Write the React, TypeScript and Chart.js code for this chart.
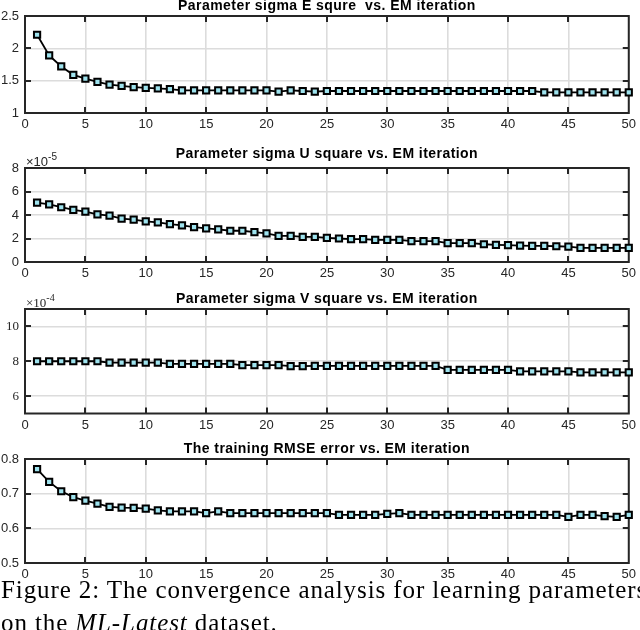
import React, { useEffect, useRef } from 'react';
import { Chart, registerables } from 'chart.js';

Chart.register(...registerables);

// EM iteration index (x)
const iterations = [
  1, 2, 3, 4, 5, 6, 7, 8, 9, 10, 11, 12, 13, 14, 15, 16, 17, 18, 19, 20, 21, 22, 23, 24, 25,
  26, 27, 28, 29, 30, 31, 32, 33, 34, 35, 36, 37, 38, 39, 40, 41, 42, 43, 44, 45, 46, 47, 48, 49, 50,
];

// Parameter sigma E square
const sigmaE = [
  2.21, 1.89, 1.72, 1.59, 1.53, 1.48, 1.44, 1.42, 1.40, 1.39, 1.38, 1.37, 1.35, 1.35, 1.35, 1.35, 1.35, 1.35, 1.35, 1.35, 1.33, 1.35, 1.34, 1.33, 1.34,
  1.34, 1.34, 1.34, 1.34, 1.34, 1.34, 1.34, 1.34, 1.34, 1.34, 1.34, 1.34, 1.34, 1.34, 1.34, 1.34, 1.34, 1.32, 1.32, 1.32, 1.32, 1.32, 1.32, 1.32, 1.32,
];

// Parameter sigma U square (x 1e-5)
const sigmaU = [
  5.05, 4.91, 4.66, 4.43, 4.29, 4.06, 3.94, 3.69, 3.60, 3.46, 3.37, 3.23, 3.11, 2.97, 2.86, 2.77, 2.66, 2.66, 2.54, 2.43, 2.23, 2.23, 2.14, 2.14, 2.06,
  2.00, 1.94, 1.94, 1.89, 1.89, 1.89, 1.77, 1.77, 1.77, 1.60, 1.60, 1.60, 1.51, 1.46, 1.43, 1.40, 1.37, 1.37, 1.34, 1.31, 1.20, 1.20, 1.20, 1.20, 1.20,
];

// Parameter sigma V square (x 1e-4)
const sigmaV = [
  8.00, 8.00, 8.00, 8.00, 8.00, 8.00, 7.92, 7.92, 7.92, 7.92, 7.92, 7.85, 7.85, 7.85, 7.85, 7.85, 7.85, 7.78, 7.78, 7.78, 7.78, 7.72, 7.72, 7.74, 7.74,
  7.74, 7.74, 7.74, 7.74, 7.74, 7.74, 7.74, 7.74, 7.74, 7.50, 7.50, 7.50, 7.50, 7.50, 7.50, 7.42, 7.42, 7.42, 7.42, 7.42, 7.36, 7.36, 7.36, 7.36, 7.36,
];

// Training RMSE
const rmse = [
  0.771, 0.734, 0.707, 0.690, 0.680, 0.671, 0.662, 0.660, 0.659, 0.657, 0.652, 0.649, 0.649, 0.649, 0.644, 0.649, 0.644, 0.644, 0.644, 0.644, 0.644, 0.644, 0.644, 0.644, 0.644,
  0.639, 0.639, 0.639, 0.639, 0.642, 0.644, 0.639, 0.639, 0.639, 0.639, 0.639, 0.639, 0.639, 0.639, 0.639, 0.639, 0.639, 0.639, 0.639, 0.633, 0.639, 0.639, 0.635, 0.633, 0.639,
];

const titles = [
  'Parameter sigma E squre  vs. EM iteration',
  'Parameter sigma U square vs. EM iteration',
  'Parameter sigma V square vs. EM iteration',
  'The training RMSE error vs. EM iteration',
];

const xTickStep = 5;

const INK = '#262626';
const SANS = '"Liberation Sans", Arial, sans-serif';
const SERIF = '"Liberation Serif", "Times New Roman", serif';

const framePlugin = {
  id: 'frame',
  beforeDatasetsDraw(chart: any) {
    const { ctx, chartArea: a, scales } = chart;
    ctx.save();
    ctx.strokeStyle = INK;
    ctx.lineWidth = 2;
    const tl = 6;
    ctx.beginPath();
    scales.x.ticks.forEach((t: any) => {
      const x = Math.round(scales.x.getPixelForValue(t.value));
      if (x <= a.left + 1 || x >= a.right - 1) return;
      ctx.moveTo(x, a.bottom);
      ctx.lineTo(x, a.bottom - tl);
      ctx.moveTo(x, a.top);
      ctx.lineTo(x, a.top + tl);
    });
    scales.y.ticks.forEach((t: any) => {
      const y = Math.round(scales.y.getPixelForValue(t.value));
      if (y <= a.top + 1 || y >= a.bottom - 1) return;
      ctx.moveTo(a.left, y);
      ctx.lineTo(a.left + tl, y);
      ctx.moveTo(a.right, y);
      ctx.lineTo(a.right - tl, y);
    });
    ctx.stroke();
    ctx.lineWidth = 2;
    ctx.strokeRect(a.left, a.top, a.right - a.left, a.bottom - a.top);
    ctx.restore();
  },
  afterDraw(chart: any, _args: any, opts: any) {
    const { ctx, chartArea: a } = chart;
    ctx.save();
    ctx.fillStyle = '#000';
    ctx.font = `bold 14px ${SANS}`;
    try { (ctx as any).letterSpacing = '0.45px'; } catch (e) { /* ignore */ }
    ctx.textAlign = 'center';
    ctx.textBaseline = 'middle';
    ctx.fillText(opts.title, (a.left + a.right) / 2, opts.titleY);
    try { (ctx as any).letterSpacing = '0px'; } catch (e) { /* ignore */ }
    if (opts.exp) {
      ctx.fillStyle = INK;
      ctx.textAlign = 'left';
      ctx.textBaseline = 'alphabetic';
      ctx.font = `13px ${opts.expFont}`;
      const base = '\u00d710';
      ctx.fillText(base, a.left + 1, opts.expY);
      const w = ctx.measureText(base).width;
      ctx.font = `10px ${opts.expFont}`;
      ctx.fillText(opts.exp, a.left + 1 + w, opts.expY - 6);
    }
    ctx.restore();
  },
};

type Panel = {
  top: number;
  height: number;
  areaTop: number;
  xHeight: number;
  title: string;
  titleY: number;
  values: number[];
  yMin: number;
  yMax: number;
  yStep: number;
  yTicks?: number[];
  yFont: string;
  exp?: string;
  expY?: number;
};

const panels: Panel[] = [
  { top: 0, height: 135, areaTop: 16, xHeight: 22, title: titles[0], titleY: 6, values: sigmaE, yMin: 1, yMax: 2.5, yStep: 0.5, yFont: SANS },
  { top: 135, height: 145, areaTop: 33, xHeight: 18, title: titles[1], titleY: 19, values: sigmaU, yMin: 0, yMax: 8, yStep: 2, yFont: SANS, exp: '-5', expY: 31 },
  { top: 280, height: 155, areaTop: 29, xHeight: 21.5, title: titles[2], titleY: 19, values: sigmaV, yMin: 5, yMax: 11, yStep: 2, yTicks: [6, 8, 10], yFont: SERIF, exp: '-4', expY: 27 },
  { top: 435, height: 150, areaTop: 24, xHeight: 22, title: titles[3], titleY: 14, values: rmse, yMin: 0.5, yMax: 0.8, yStep: 0.1, yFont: SANS },
];

const fmt = (v: number) => String(Math.round(v * 1000) / 1000);

function PanelChart({ p }: { p: Panel }) {
  const ref = useRef<HTMLCanvasElement | null>(null);
  useEffect(() => {
    if (!ref.current) return;
    const chart = new Chart(ref.current, {
      type: 'line',
      data: {
        datasets: [
          {
            data: iterations.map((x, i) => ({ x, y: p.values[i] })),
            borderColor: '#000',
            borderWidth: 1.8,
            pointStyle: 'rect',
            pointRadius: 4.4,
            pointBorderWidth: 2,
            pointBorderColor: '#000',
            pointBackgroundColor: '#9fe3ee',
            clip: false as any,
            tension: 0,
          } as any,
        ],
      },
      options: {
        animation: false,
        responsive: false,
        maintainAspectRatio: false,
        layout: { padding: { left: 0, right: 8, top: p.areaTop, bottom: 0 } },
        plugins: {
          legend: { display: false },
          tooltip: { enabled: false },
          title: { display: false },
          frame: {
            title: p.title,
            titleY: p.titleY,
            exp: p.exp,
            expY: p.expY,
            expFont: p.yFont,
          },
        } as any,
        scales: {
          x: {
            type: 'linear',
            min: 0,
            max: 50,
            ticks: { stepSize: xTickStep, color: INK, font: { family: SANS, size: 13 }, padding: 4, maxRotation: 0, autoSkip: false, callback: (v: any) => fmt(Number(v)) },
            grid: { color: '#dcdcdc', lineWidth: 1.6, drawTicks: false },
            border: { display: false },
            afterFit: (s: any) => { s.height = p.xHeight; },
          },
          y: {
            type: 'linear',
            min: p.yMin,
            max: p.yMax,
            ticks: { stepSize: p.yStep, color: INK, font: { family: p.yFont, size: 13 }, padding: 6, callback: (v: any) => fmt(Number(v)) },
            grid: { color: '#dcdcdc', lineWidth: 1.6, drawTicks: false },
            border: { display: false },
            afterBuildTicks: (s: any) => {
              if (p.yTicks) s.ticks = p.yTicks.map((v) => ({ value: v }));
            },
            afterFit: (s: any) => { s.width = 25; },
          },
        },
      },
      plugins: [framePlugin as any],
    });
    return () => chart.destroy();
  }, [p]);
  return (
    <canvas
      ref={ref}
      width={640}
      height={p.height}
      style={{ position: 'absolute', left: 0, top: p.top, width: 640, height: p.height }}
    />
  );
}

export default function App() {
  return (
    <div style={{ position: 'absolute', left: 0, top: 0, width: 640, height: 630, overflow: 'hidden', background: '#fff' }}>
      {panels.map((p, i) => (
        <PanelChart key={i} p={p} />
      ))}
      <div
        style={{
          position: 'absolute',
          left: 1,
          top: 573,
          fontFamily: SERIF,
          fontSize: 25,
          lineHeight: '33px',
          letterSpacing: '0.9px',
          whiteSpace: 'nowrap',
          color: '#000',
        }}
      >
        Figure 2: The convergence analysis for learning parameters
        <br />
        on the <i>ML-Latest</i> dataset.
      </div>
    </div>
  );
}
